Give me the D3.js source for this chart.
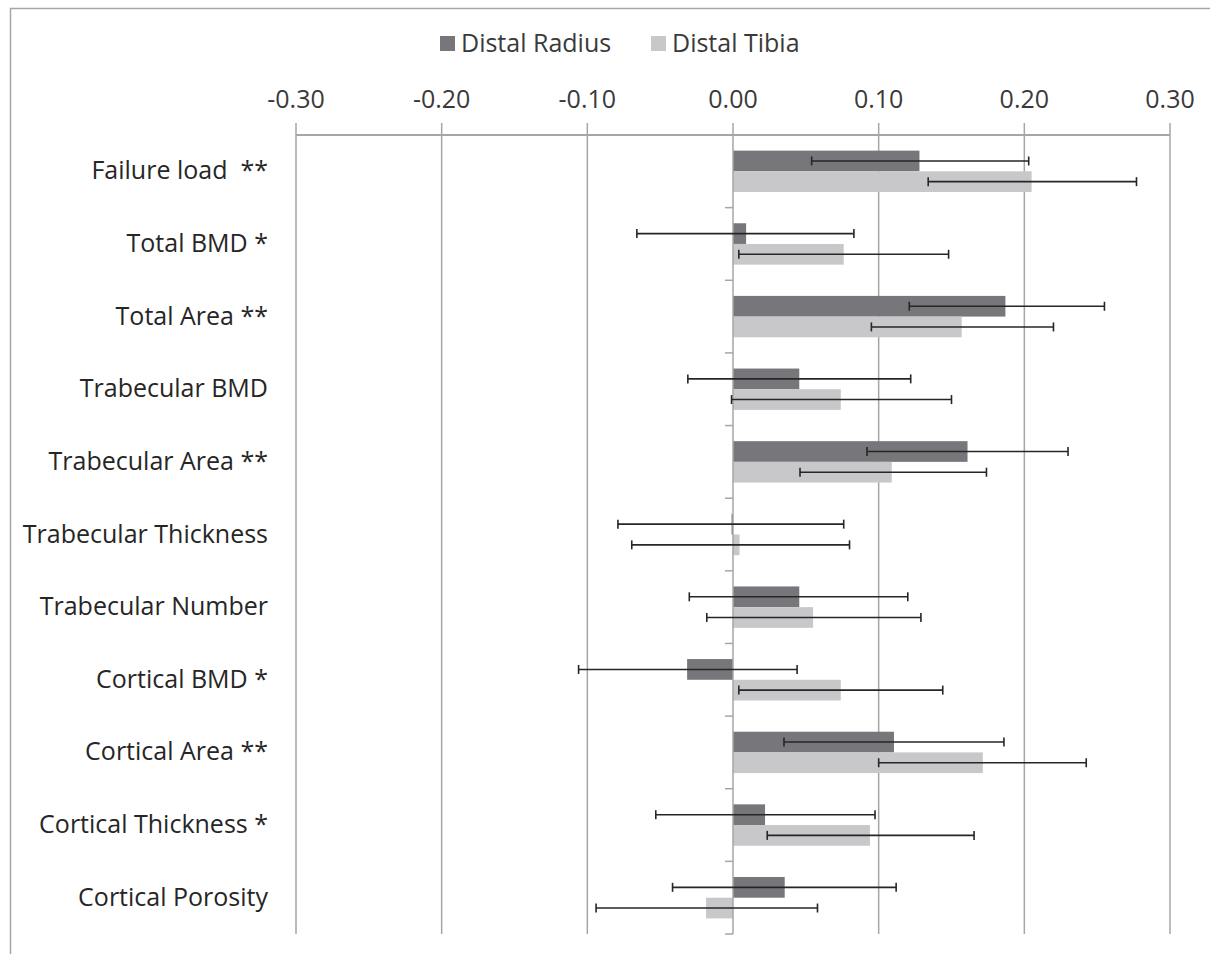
<!DOCTYPE html>
<html><head><meta charset="utf-8">
<script src="https://cdn.jsdelivr.net/npm/d3@7"></script>
<style>body{margin:0;background:#fff;} svg{display:block;}</style>
</head><body>
<svg id="c" width="1210" height="954"></svg>
<script>
const categories = ["Failure load  **","Total BMD *","Total Area **","Trabecular BMD","Trabecular Area **","Trabecular Thickness","Trabecular Number","Cortical BMD *","Cortical Area **","Cortical Thickness *","Cortical Porosity"];
const seriesNames = ["Distal Radius","Distal Tibia"];
const radiusValues = [0.128,0.009,0.187,0.0455,0.161,-0.001,0.0455,-0.0315,0.1105,0.022,0.0355];
const radiusLow    = [0.054,-0.066,0.121,-0.031,0.092,-0.079,-0.030,-0.106,0.035,-0.053,-0.0415];
const radiusHigh   = [0.203,0.083,0.255,0.122,0.230,0.076,0.120,0.044,0.186,0.0975,0.112];
const tibiaValues  = [0.205,0.076,0.157,0.074,0.109,0.0045,0.055,0.074,0.1715,0.094,-0.0185];
const tibiaLow     = [0.134,0.004,0.095,-0.001,0.046,-0.0695,-0.018,0.004,0.100,0.0235,-0.094];
const tibiaHigh    = [0.277,0.148,0.220,0.150,0.174,0.080,0.129,0.144,0.2425,0.1655,0.058];
const xTicks = [-0.3,-0.2,-0.1,0,0.1,0.2,0.3];
const colors = ["#77777b","#c8c8ca"];

const svg = d3.select("#c");
const font = "'Open Sans', sans-serif";

// frame
svg.append("path").attr("d","M10.5,954 V8.5 H1210").attr("fill","none").attr("stroke","#a6a6a6").attr("stroke-width",1.5);

const x = d3.scaleLinear().domain([-0.3,0.3]).range([296,1170]);
const y = d3.scaleBand().domain(categories).range([135,934]).paddingInner(0).paddingOuter(0);
const ys = d3.scaleBand().domain(seriesNames).range([0,y.bandwidth()]).paddingInner(0).paddingOuter(0.755);

// gridlines
svg.append("g").selectAll("line").data(xTicks.filter(d=>d!==0)).join("line")
  .attr("x1",d=>x(d)).attr("x2",d=>x(d)).attr("y1",123).attr("y2",934)
  .attr("stroke","#a6a6a6").attr("stroke-width",1.5);

// top axis line
svg.append("line").attr("x1",x(-0.3)).attr("x2",x(0.3)).attr("y1",135).attr("y2",135)
  .attr("stroke","#a6a6a6").attr("stroke-width",2);

// tick labels
svg.append("g").selectAll("text").data(xTicks).join("text")
  .attr("x",d=>x(d)).attr("y",108).attr("text-anchor","middle")
  .attr("font-family",font).attr("font-size",25).attr("fill","#3a3a3a")
  .text(d=>d3.format(".2f")(d).replace("\u2212","-"));

// bars
const series = [
  {name:seriesNames[0], vals:radiusValues, lo:radiusLow, hi:radiusHigh, color:colors[0]},
  {name:seriesNames[1], vals:tibiaValues, lo:tibiaLow, hi:tibiaHigh, color:colors[1]}
];
series.forEach(s=>{
  const g = svg.append("g");
  g.selectAll("rect").data(categories).join("rect")
    .attr("x",(c,i)=>x(Math.min(0,s.vals[i])))
    .attr("width",(c,i)=>Math.abs(x(s.vals[i])-x(0)))
    .attr("y",c=>y(c)+ys(s.name))
    .attr("height",ys.bandwidth())
    .attr("fill",s.color);
});

// category axis at zero
svg.append("line").attr("x1",x(0)).attr("x2",x(0)).attr("y1",123).attr("y2",934)
  .attr("stroke","#a6a6a6").attr("stroke-width",1.5);
const bounds = categories.map(c=>y(c)).concat([y.range()[1]]);
svg.append("g").selectAll("line").data(bounds.slice(1)).join("line")
  .attr("x1",x(0)-8).attr("x2",x(0)).attr("y1",d=>d).attr("y2",d=>d)
  .attr("stroke","#a6a6a6").attr("stroke-width",1.5);

// error bars
series.forEach(s=>{
  const g = svg.append("g").attr("stroke","#262626").attr("stroke-width",1.6);
  categories.forEach((c,i)=>{
    const cy = y(c)+ys(s.name)+ys.bandwidth()/2;
    g.append("line").attr("x1",x(s.lo[i])).attr("x2",x(s.hi[i])).attr("y1",cy).attr("y2",cy);
    g.append("line").attr("x1",x(s.lo[i])).attr("x2",x(s.lo[i])).attr("y1",cy-4.5).attr("y2",cy+4.5);
    g.append("line").attr("x1",x(s.hi[i])).attr("x2",x(s.hi[i])).attr("y1",cy-4.5).attr("y2",cy+4.5);
  });
});

// category labels
svg.append("g").selectAll("text").data(categories).join("text")
  .attr("x",268).attr("y",c=>y(c)+y.bandwidth()/2+8)
  .attr("text-anchor","end").attr("font-family",font).attr("font-size",25).attr("fill","#262626")
  .attr("xml:space","preserve").style("white-space","pre")
  .text(c=>c);

// legend
const leg = svg.append("g");
const legX = [440,651];
seriesNames.forEach((n,i)=>{
  leg.append("rect").attr("x",legX[i]).attr("y",36).attr("width",15).attr("height",15).attr("fill",colors[i]);
  leg.append("text").attr("x",legX[i]+21).attr("y",52).attr("font-family",font).attr("font-size",25)
    .attr("fill","#3a3a3a").text(n);
});
</script>
</body></html>
